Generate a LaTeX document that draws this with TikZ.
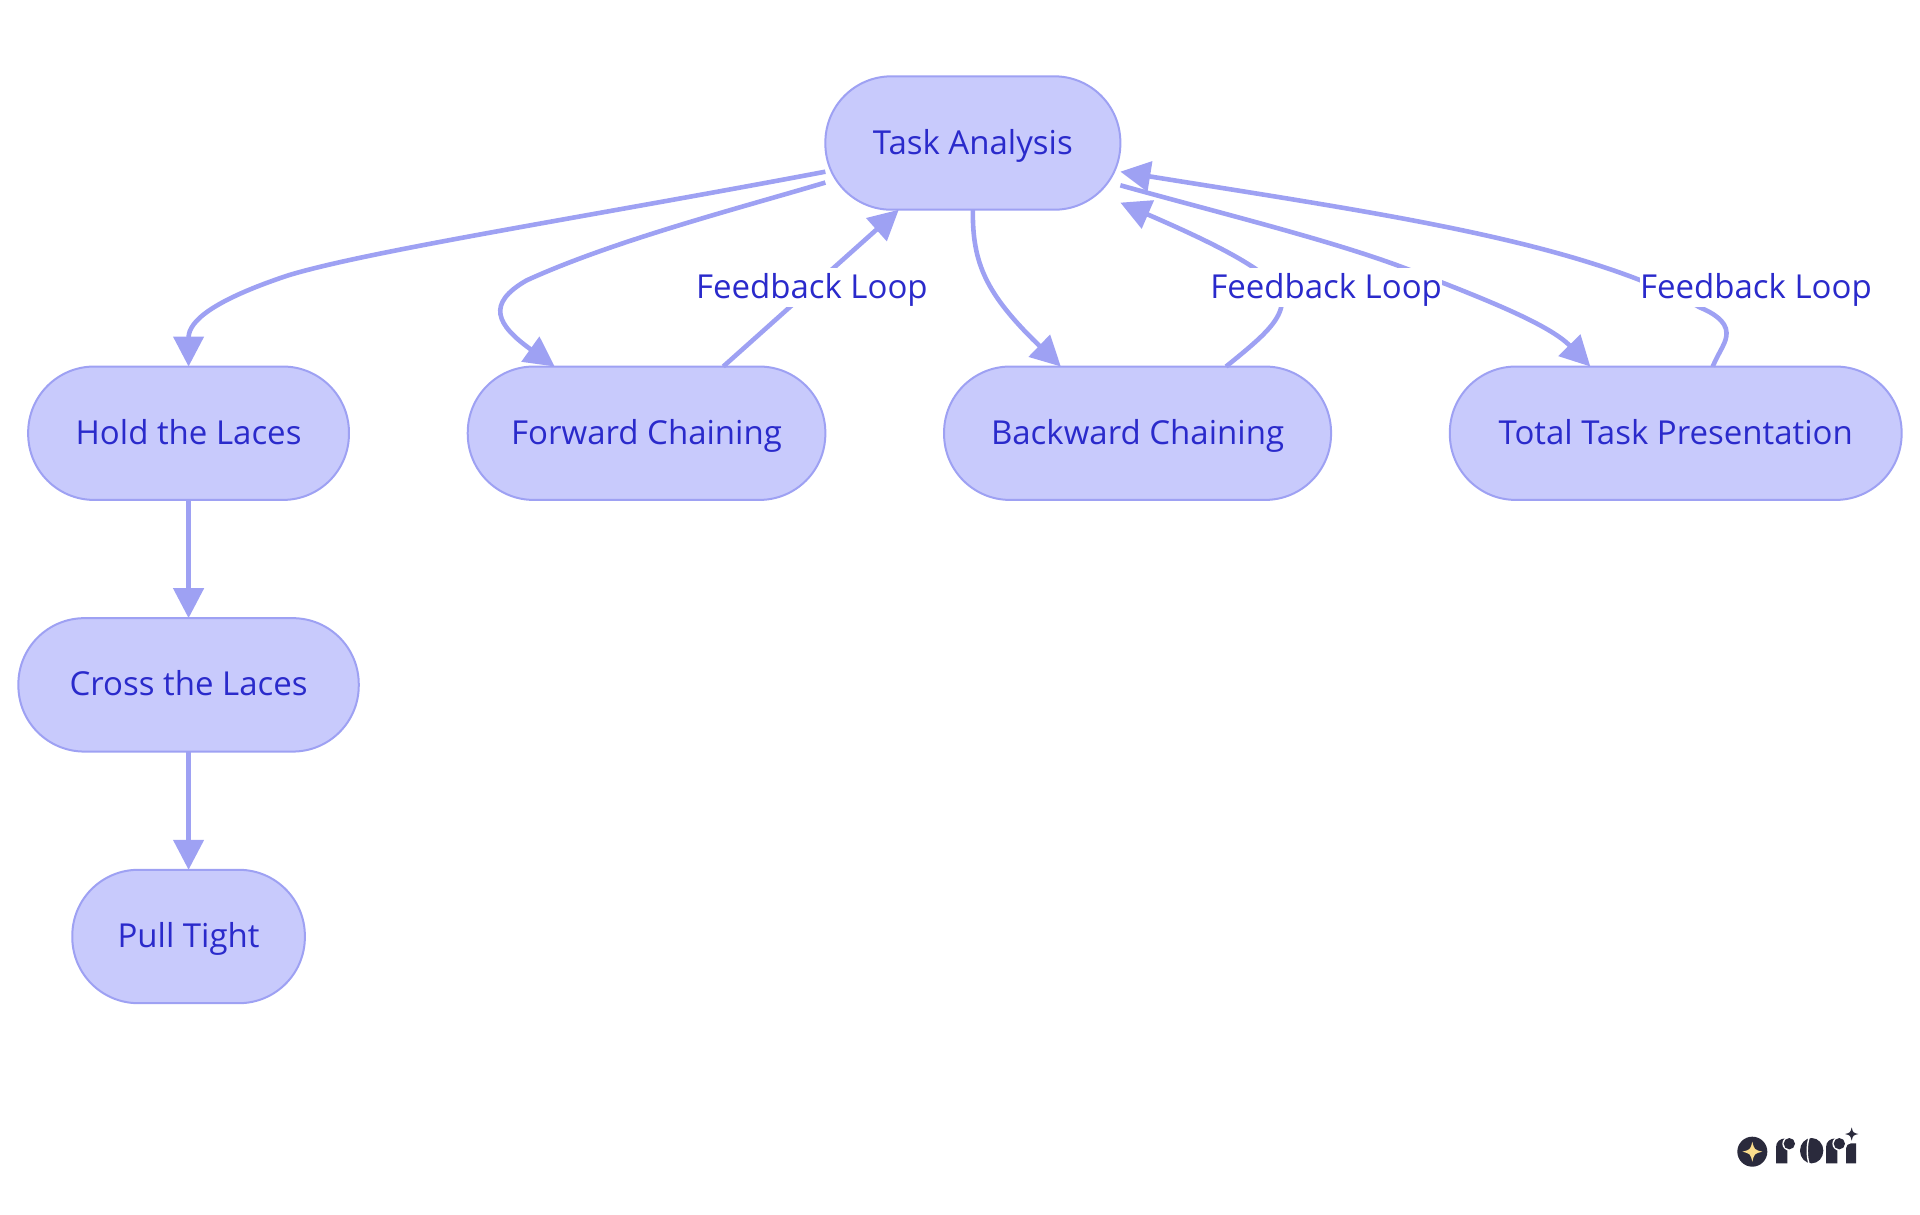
\documentclass[tikz,border=0pt]{standalone}
\usepackage{fontspec}
\setmainfont{Open Sans}
\usetikzlibrary{arrows.meta}
\definecolor{edgeblue}{HTML}{9EA1F3}
\definecolor{fillblue}{HTML}{C8CAFC}
\definecolor{textblue}{HTML}{2A2ACB}
\definecolor{logodark}{HTML}{2A2A3C}
\definecolor{logostar}{HTML}{FBDD8C}
\newcommand{\logostarpath}{(0,-1)..controls(.2,-.2)..(1,0)..controls(.2,.2)..(0,1)..controls(-.2,.2)..(-1,0)..controls(-.2,-.2)..cycle}
\newcommand{\logorpath}{(228,160)--(228,112)..controls(228,95)and(240,85)..(258,85)--(262,85)--(262,160)--cycle}
\tikzset{
	taskbox/.style={draw=edgeblue,fill=fillblue,line width=1pt,rounded corners=33pt,minimum height=66.7pt,inner sep=0pt,outer sep=0pt,text=textblue,text height=13pt,text depth=2pt,font=\fontsize{16.5}{19}\selectfont},
	flow/.style={draw=edgeblue,line width=2.3pt,-{Triangle[length=15pt,width=15pt,fill=edgeblue]}},
	loopnote/.style={fill=white,text=textblue,inner sep=0pt,minimum height=19.6pt,text height=13pt,text depth=2pt,font=\fontsize{16.5}{19}\selectfont}
}
\begin{document}
\begin{tikzpicture}[x=.61224pt,y=-.61224pt]
		\useasboundingbox(0,0)rectangle(1568,992.2);
		\node[taskbox,minimum width=147.5pt](task)at(794.5,116.8){Task Analysis};
		\node[taskbox,minimum width=160.4pt](hold)at(154,353.8){Hold the Laces};
		\node[taskbox,minimum width=178.8pt](forward)at(528,353.8){Forward Chaining};
		\node[taskbox,minimum width=193.5pt](backward)at(929,353.8){Backward Chaining};
		\node[taskbox,minimum width=225.9pt](total)at(1368.5,353.8){Total Task Presentation};
		\node[taskbox,minimum width=170.2pt](cross)at(154,559.3){Cross the Laces};
		\node[taskbox,minimum width=116.3pt](pull)at(154,764.8){Pull Tight};
		\draw[flow](task.191)..controls(480,177)and(300,205)..(235,225)..controls(175,245)and(154,262)..(hold.north);
		\draw[flow](task.195.5)..controls(600,171)and(500,197)..(430,229)..controls(397,248)and(405,265)..(forward.144.7);
		\draw[flow](forward.41.3)--(task.222.5);
		\draw[flow](task.south)..controls(794,215)and(805,240)..(backward.139.1);
		\draw[flow](backward.37.9)..controls(1030,276)and(1047,262)..(1047,245)..controls(1047,225)and(990,198)..(task.-22.7);
		\draw[flow](task.-16)..controls(1000,175)and(1090,197)..(1150,220)..controls(1215,245)and(1265,265)..(total.142.7);
		\draw[flow](total.61.6)..controls(1405,285)and(1410,280)..(1410,272)..controls(1410,262)and(1398,255)..(1388,251)..controls(1370,240)and(1345,231)..(1340,229)..controls(1240,190)and(1100,170)..(task.-11.5);
		\draw[flow](hold.south)--(cross.north);
		\draw[flow](cross.south)--(pull.north);
		\node[loopnote](loopa)at(663,235){Feedback Loop};
		\node[loopnote](loopb)at(1083,235){Feedback Loop};
		\node[loopnote](loopc)at(1434,235){Feedback Loop};
		\begin{scope}[shift={(1388.3,906.5)},x=.1667pt,y=-.1667pt]
			\fill[logodark](157,125)circle(45);
			\fill[logostar,shift={(157,125)},scale=30]\logostarpath;
			\fill[logodark]\logorpath;
			\fill[white](268,101)circle(21);
			\fill[logodark](268,101)circle(17);
			\fill[logodark](335,122)ellipse(35 and 38);
			\draw[white,line width=.7pt](327,84)..controls(320,105)and(320,140)..(327,160);
			\fill[logodark,xshift=.1667pt*150]\logorpath;
			\fill[white](418,101)circle(21);
			\fill[logodark](418,101)circle(17);
			\fill[logodark](468,160)--(438,160)--(438,115)..controls(438,107)and(445,100)..(453,100)--(468,100)--cycle;
			\fill[logodark,shift={(455,72)},scale=20]\logostarpath;
		\end{scope}
	\end{tikzpicture}
\end{document}
